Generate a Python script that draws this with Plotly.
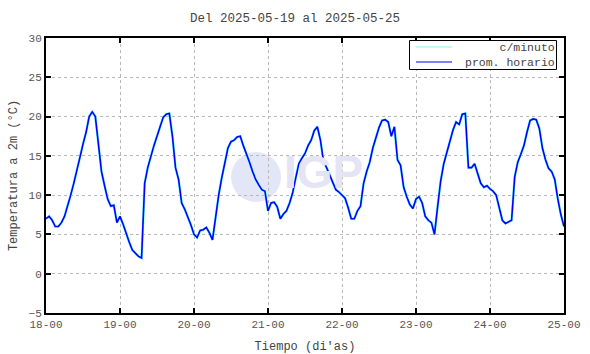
import plotly.graph_objects as go

# hour offsets from 18-00 and hourly mean temperature (°C)
hours = list(range(0, 169))
temp_hourly = [
    # day 18 (h0-h23)
    7.0, 7.3, 6.8, 6.0, 6.0, 6.5, 7.3, 8.5, 10.0, 11.5, 13.0, 14.8,
    16.5, 18.0, 20.0, 20.6, 20.0, 16.5, 13.0, 11.2, 9.5, 8.6, 8.7, 6.5,
    # day 19
    7.3, 6.3, 5.0, 4.0, 3.0, 2.6, 2.2, 2.0, 11.5, 13.5, 15.0, 16.3,
    17.5, 18.8, 19.9, 20.3, 20.4, 17.5, 13.5, 12.0, 9.0, 8.2, 7.3, 6.2,
    # day 20
    5.0, 4.6, 5.5, 5.6, 5.9, 5.2, 4.3, 7.5, 10.0, 12.2, 14.0, 16.0,
    16.8, 17.0, 17.4, 17.5, 16.3, 15.3, 14.2, 13.0, 12.0, 11.3, 10.7, 10.5,
    # day 21
    8.0, 9.0, 9.1, 8.5, 7.0, 7.6, 8.0, 9.0, 10.3, 12.2, 14.0, 14.7,
    15.3, 16.3, 17.0, 18.2, 18.7, 17.0, 14.3, 13.5, 12.5, 11.5, 10.7, 10.4,
    # day 22
    10.0, 9.6, 8.4, 7.0, 7.0, 8.0, 8.6, 11.5, 13.0, 14.2, 16.0, 17.3,
    18.6, 19.5, 19.6, 19.3, 17.5, 18.7, 14.5, 13.8, 11.0, 9.8, 8.8, 8.3,
    # day 23
    9.5, 9.8, 9.0, 7.3, 6.8, 6.5, 5.0, 8.5, 11.8, 14.0, 15.5, 16.8,
    18.3, 19.3, 19.0, 20.3, 20.4, 13.5, 13.5, 14.0, 12.8, 11.5, 11.0, 11.2,
    # day 24
    10.8, 10.5, 10.0, 8.5, 6.8, 6.4, 6.6, 6.8, 12.3, 14.2, 15.2, 16.3,
    18.0, 19.5, 19.7, 19.6, 18.5, 16.0, 14.5, 13.4, 13.0, 12.0, 9.5, 7.5,
    # 25-00
    6.0,
]

tick_hours = [0, 24, 48, 72, 96, 120, 144, 168]
tick_labels = ["18-00", "19-00", "20-00", "21-00", "22-00", "23-00", "24-00", "25-00"]
y_ticks = [-5, 0, 5, 10, 15, 20, 25, 30]
series_names = ["c/minuto", "prom. horario"]

FONT = "Liberation Mono"
CYAN = "#7ff9f9"
BLUE = "#0000ff"

# plot-area pixel geometry (for paper-coordinate decorations)
L, R, T, B = 46, 564, 38, 313
def px(x):
    return (x - L) / (R - L)
def py(y):
    return (B - y) / (B - T)

fig = go.Figure()
fig.add_trace(go.Scatter(x=hours, y=temp_hourly, mode="lines", name=series_names[0],
                         line=dict(color=CYAN, width=2.6), hoverinfo="skip"))
fig.add_trace(go.Scatter(x=hours, y=temp_hourly, mode="lines", name=series_names[1],
                         line=dict(color=BLUE, width=1.6)))

# IGP watermark
fig.add_shape(type="circle", xref="paper", yref="paper", layer="below",
              x0=px(231), x1=px(281), y0=py(202), y1=py(152),
              fillcolor="#e3e6f7", line=dict(width=0))
fig.add_annotation(text="<b>IGP</b>", xref="paper", yref="paper",
                   x=px(323), y=py(172), showarrow=False,
                   font=dict(family="Liberation Sans", size=46, color="#e4e4f4"))

# gnuplot-style key box
row_y = [47.0, 62.0]
fig.add_shape(type="rect", xref="paper", yref="paper",
              x0=px(409.5), x1=px(556.5), y0=py(69.5), y1=py(40.5),
              fillcolor="white", line=dict(color="black", width=1))
for yy, col in zip(row_y, [CYAN, BLUE]):
    fig.add_shape(type="line", xref="paper", yref="paper",
                  x0=px(416), x1=px(452), y0=py(yy), y1=py(yy),
                  line=dict(color=col, width=1.2))
fig.add_annotation(text="<br>".join(series_names), xref="paper", yref="paper",
                   x=px(556), y=py(sum(row_y) / 2), xanchor="right", yanchor="middle",
                   align="right", showarrow=False, borderpad=0,
                   font=dict(family=FONT, size=11.5, color="#444444"))

axis_common = dict(
    showline=True, linecolor="black", linewidth=2, mirror="allticks",
    ticks="inside", ticklen=5, tickwidth=1.5, tickcolor="black",
    showgrid=True, gridcolor="#b8b8b8", gridwidth=1, griddash="dot",
    zeroline=False, automargin=False,
    tickfont=dict(family=FONT, size=11, color="#555555"),
)

fig.update_layout(
    width=590, height=354,
    margin=dict(l=L, r=590 - R, t=T, b=354 - B, autoexpand=False),
    paper_bgcolor="white", plot_bgcolor="white",
    font=dict(family=FONT, color="#444444"),
    title=dict(text="Del 2025-05-19 al 2025-05-25", x=0.5, xref="container",
               xanchor="center", y=1 - 18 / 354, yref="container", yanchor="middle",
               font=dict(family=FONT, size=12.5, color="#444444")),
    xaxis=dict(range=[0, 168], tickvals=tick_hours, ticktext=tick_labels,
               title=dict(text="Tiempo (di'as)", standoff=11,
                          font=dict(family=FONT, size=12, color="#444444")),
               **axis_common),
    yaxis=dict(range=[-5, 30], tickvals=y_ticks,
               title=dict(text="Temperatura a 2m (°C)", standoff=8,
                          font=dict(family=FONT, size=12, color="#444444")),
               **axis_common),
    showlegend=False,
)

fig.write_html("out.html", config={"displayModeBar": False},
               post_script="document.body.style.margin='0';document.body.style.overflow='hidden';")
